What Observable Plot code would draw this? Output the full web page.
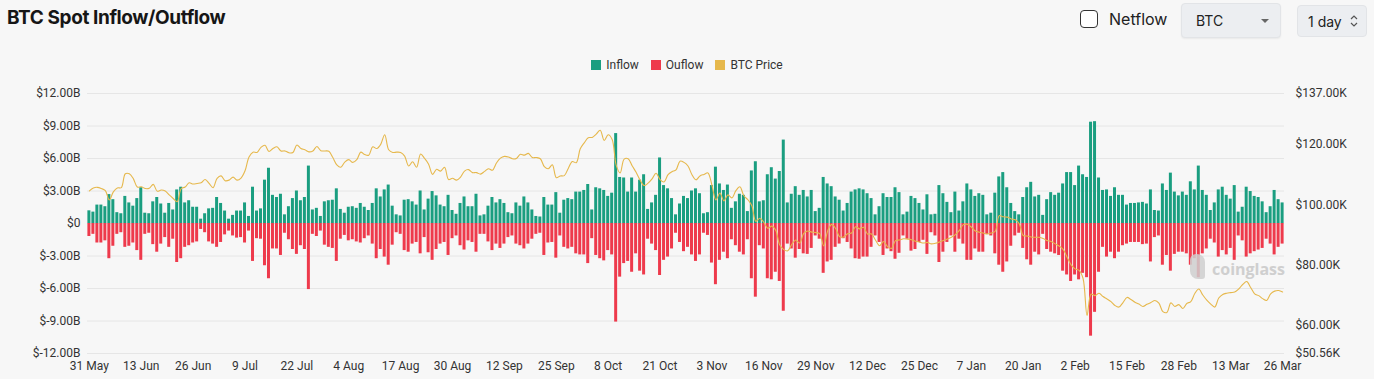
<!DOCTYPE html>
<html><head><meta charset="utf-8">
<script src="https://cdn.jsdelivr.net/npm/d3@7"></script>
<script src="https://cdn.jsdelivr.net/npm/@observablehq/plot@0.6"></script>
<style>
html,body{margin:0;padding:0;}
body{background:#f7f7f7;width:1374px;height:379px;overflow:hidden;position:relative;font-family:Roboto,"Noto Sans",sans-serif;color:#222;}
#title{position:absolute;left:7px;top:6px;font:700 19px Inter,sans-serif;letter-spacing:-0.4px;color:#161616;}
#cb{position:absolute;left:1080px;top:10px;width:16px;height:16px;border:1.6px solid #333;border-radius:4px;background:#fff;}
#netflow{position:absolute;left:1109px;top:9px;font:400 16px Inter,sans-serif;color:#222;}
#sel{position:absolute;left:1181px;top:3px;width:98px;height:33px;background:#eceef1;border:1px solid #e2e4e7;border-radius:4px;box-shadow:0 1px 2px rgba(0,0,0,0.06);}
#sel span{position:absolute;left:14px;top:8px;font:400 14px Inter,sans-serif;color:#222;}
#sel i{position:absolute;left:79px;top:15px;width:0;height:0;border-left:4px solid transparent;border-right:4px solid transparent;border-top:4px solid #666;}
#per{position:absolute;left:1297px;top:5px;width:68px;height:30px;background:#eceef1;border:1px solid #e2e4e7;border-radius:4px;}
#per span{position:absolute;left:10px;top:7px;font:400 14px Inter,sans-serif;color:#222;}
#per svg{position:absolute;left:52px;top:8px;}
#legend{position:absolute;left:0;top:58px;width:1374px;text-align:center;font:400 12px Roboto,sans-serif;color:#333;}
#legend .it{display:inline-flex;align-items:center;margin:0 6px;}
#legend .sw{width:10px;height:10px;margin-right:5px;display:inline-block;}
#chart{position:absolute;left:0;top:80px;}
#wm{position:absolute;left:1212px;top:258px;font:700 16px "Open Sans",sans-serif;color:#c9c9c9;opacity:0.85;}
#wmlogo{position:absolute;left:1190px;top:254px;width:15px;height:25px;background:#cfcfcf;border-radius:6px 8px 3px 8px;opacity:0.85;}
</style></head>
<body>
<div id="title">BTC Spot Inflow/Outflow</div>
<div id="cb"></div>
<div id="netflow">Netflow</div>
<div id="sel"><span>BTC</span><i></i></div>
<div id="per"><span>1 day</span><svg width="8" height="14" viewBox="0 0 8 14"><path d="M1 5 L4 2 L7 5 M1 9 L4 12 L7 9" fill="none" stroke="#555" stroke-width="1.2"/></svg></div>
<div id="legend"></div>
<div id="chart"></div>
<div id="wmlogo"></div>
<div id="wm">coinglass</div>
<script>
// ---- data (values in $B for flows, $K for BTC price), one value per day from 31 May ----
const startDate = "2025-05-31";
const endDate = "2026-03-26";
const inflow = [
1.17,1.05,1.7,1.7,1.55,2.67,2.2,1.0,0.9,2.5,
1.9,1.6,2.3,3.3,0.95,0.9,2.0,2.4,1.8,0.95,
1.85,1.25,3.1,3.35,1.9,2.1,1.5,1.5,0.4,0.9,
1.35,1.4,2.4,1.85,1.15,0.4,0.75,1.15,1.15,1.9,
0.65,3.35,1.15,1.35,4.0,5.1,2.6,2.4,2.7,0.8,
1.55,2.3,3.0,
2.1,2.4,5.3,1.25,1.4,0.65,2.0,2.1,2.15,3.2,
1.3,0.95,1.5,1.55,1.4,1.85,1.5,1.2,1.85,3.2,
2.45,3.1,3.55,1.6,0.8,0.7,2.15,2.2,2.0,1.7,
3.0,1.25,2.25,2.95,2.55,1.7,1.55,2.6,1.2,0.85,
1.85,2.45,1.55,1.55,2.7,0.7,0.8,1.6,2.4,1.9,
2.2,1.85,1.0,0.9,1.9,1.6,2.45,1.9,1.25,0.65,
0.6,2.4,1.7,1.7,2.85,0.95,2.15,2.3,2.2,2.9,
2.9,3.05,3.6,1.25,3.3,3.2,3.05,2.5,2.8,8.3,
4.25,4.2,2.9,4.2,2.9,4.0,4.5,1.3,1.9,2.6,
6.05,3.5,3.2,2.3,0.8,1.8,2.5,2.3,3.0,3.2,
2.75,0.9,1.0,3.5,5.2,3.65,3.05,3.55,1.4,2.0,
2.7,2.6,1.1,4.85,5.7,2.0,2.1,4.5,5.15,4.1,
4.8,7.7,1.9,2.7,3.4,2.6,3.05,2.45,3.05,1.1,
1.4,4.25,3.65,3.4,2.45,2.15,1.15,1.85,2.9,3.1,
3.2,3.1,2.75,2.3,0.8,1.55,2.75,2.4,2.4,3.3,
2.85,0.8,1.05,2.5,2.3,1.85,1.25,2.65,0.8,0.85,
3.5,2.75,1.95,1.0,2.9,1.15,2.0,3.65,3.1,2.5,
2.75,2.6,0.8,0.95,2.8,4.3,4.7,3.3,1.85,1.1,
0.8,2.4,3.3,3.8,2.45,2.6,0.75,2.2,2.85,2.6,
2.8,3.65,4.7,4.7,3.5,5.3,4.5,4.25,9.35,9.4,
4.2,3.05,3.1,2.5,3.3,2.6,2.6,1.7,1.85,1.85,
1.9,
1.95,1.8,3.1,1.2,1.15,3.65,3.05,4.65,2.9,2.55,
2.9,2.6,3.85,3.1,5.3,3.05,2.6,1.2,1.9,3.1,
3.35,2.6,2.25,3.5,1.05,1.5,3.35,2.95,2.5,2.4,
2.0,1.0,1.55,3.05,2.2,1.9
];
const outflow = [
1.2,1.0,1.8,1.8,1.6,3.25,2.1,1.0,0.85,2.2,
2.1,1.8,2.5,3.4,1.0,0.9,1.95,2.65,1.9,1.3,
2.2,1.45,3.6,3.25,2.2,2.05,1.8,1.7,0.55,0.85,
1.7,1.9,2.2,1.75,1.05,0.7,1.15,1.35,1.3,1.8,
0.7,3.5,1.4,1.45,3.9,5.1,2.35,2.35,2.95,0.9,
1.5,2.4,2.85,
2.05,2.4,6.1,1.0,1.2,0.7,2.0,2.2,2.3,3.5,
1.45,1.1,1.6,1.5,1.7,1.8,1.4,1.15,1.9,3.25,
2.4,3.1,3.85,2.0,0.85,1.0,2.5,2.65,1.9,1.75,
2.8,1.3,2.7,3.4,2.4,1.9,1.75,2.95,1.4,1.15,
2.05,2.45,1.6,1.75,2.65,1.0,1.0,1.7,2.5,1.9,
2.3,1.9,1.3,1.15,1.9,2.05,2.35,1.9,1.45,1.0,
0.9,2.95,1.8,1.75,3.2,1.15,2.2,2.35,2.2,2.8,
2.9,2.9,3.7,1.4,2.95,3.25,3.45,2.5,2.9,9.1,
4.95,3.7,3.5,4.5,2.8,4.4,4.75,1.45,1.9,2.5,
4.8,3.4,3.1,2.35,0.9,1.75,2.6,2.2,2.9,3.5,
2.9,0.9,1.1,3.65,5.65,3.4,2.65,3.25,1.5,2.05,
2.65,2.9,1.5,5.1,6.8,2.05,2.35,5.1,5.2,4.5,
5.35,8.1,1.9,2.35,3.2,2.4,2.8,2.85,2.3,1.15,
1.45,4.6,3.55,3.4,2.2,1.9,1.4,1.75,2.35,3.25,
3.3,3.1,3.1,2.2,1.15,1.75,2.95,2.35,2.6,3.3,
2.75,1.15,1.45,2.55,2.4,1.75,1.55,2.85,0.85,1.15,
3.6,2.65,1.75,1.15,2.65,1.45,1.9,3.4,3.4,2.35,
2.65,2.65,1.0,1.15,2.8,3.85,4.5,3.55,2.1,1.15,
0.9,2.3,3.35,3.85,2.65,2.9,1.0,2.4,2.65,2.8,
2.95,4.4,4.75,5.35,4.75,5.2,4.6,5.0,10.4,8.2,
4.5,2.2,3.1,2.65,3.25,2.65,2.05,1.9,1.75,1.75,
1.75,
1.95,1.9,3.55,1.3,1.15,3.85,2.95,4.4,2.85,2.65,
2.65,2.8,3.85,3.25,5.0,2.8,2.35,1.45,1.8,3.1,
2.5,2.9,2.3,3.4,1.15,1.6,3.1,2.8,2.6,2.45,
2.3,1.45,1.9,2.9,2.2,1.9
];
const btcPrice = [
104.6,105.6,105.8,105.4,104.7,101.6,104.3,105.6,105.7,110.3,
110.3,108.7,105.9,106.0,105.4,105.5,106.8,104.5,104.9,104.6,
103.3,102.1,101.0,105.4,105.9,107.3,106.9,107.1,107.3,108.4,
107.1,105.7,108.8,109.6,108.0,108.2,109.2,108.2,108.9,111.3,
115.9,117.5,117.4,119.1,119.8,117.7,118.7,119.3,117.9,117.9,
117.3,117.4,119.9,118.7,118.3,117.6,117.9,119.4,118.0,117.9,
117.8,115.7,113.3,112.5,114.2,115.0,114.1,115.0,117.5,116.7,
116.5,119.3,118.7,120.1,123.3,118.3,117.4,117.5,117.4,116.2,
112.9,114.3,112.5,116.9,115.4,113.5,110.1,111.8,111.2,112.5,
108.4,108.8,108.2,109.2,111.2,111.7,110.7,110.7,110.2,111.1,
112.0,111.5,113.9,115.5,116.1,115.9,115.3,115.4,116.8,116.5,
117.1,115.7,115.7,115.3,112.7,112.0,113.3,109.0,109.6,109.7,
112.1,114.4,114.0,118.6,120.6,122.3,122.4,123.5,124.8,121.4,
123.3,121.7,113.2,110.6,115.2,115.3,113.0,110.8,108.2,106.4,
107.2,108.6,110.5,108.4,107.6,110.0,111.0,111.6,114.5,114.1,
112.9,110.0,108.3,109.6,110.1,110.6,106.5,101.6,103.9,101.3,
103.3,102.3,104.7,106.0,103.0,101.7,99.7,94.5,95.5,94.2,
92.2,92.9,91.5,86.6,85.1,84.7,86.8,88.3,87.3,90.5,
91.3,90.9,90.8,90.4,86.3,91.3,93.5,92.1,89.4,89.3,
90.4,90.6,92.7,92.0,92.5,90.3,90.3,88.2,86.4,87.8,
86.1,85.5,88.1,88.3,88.7,88.6,88.4,87.9,87.6,87.3,
87.5,87.0,87.2,87.6,88.1,88.6,89.2,90.1,91.5,93.4,
93.5,92.6,91.3,90.9,90.6,90.3,90.6,91.2,96.4,96.0,
95.9,95.3,95.0,93.7,89.8,89.6,89.3,89.2,89.2,88.8,
88.1,87.8,87.0,86.3,85.2,82.6,80.0,78.7,78.2,75.5,
63.2,70.3,69.8,70.6,69.5,68.7,67.8,66.5,66.0,67.5,
69.2,68.5,67.6,67.0,66.2,66.9,67.5,68.2,67.3,64.5,
64.2,67.4,66.2,66.8,65.5,67.2,67.8,70.5,72.0,70.0,
68.3,67.0,66.0,69.0,70.2,70.6,70.8,71.0,72.0,73.5,
74.5,72.5,70.4,69.8,68.8,68.2,70.4,71.3,71.5,71.0
];
const flowTicks = [-12,-9,-6,-3,0,3,6,9,12];
const priceTicks = [50.56,60,80,100,120,137];
const xTickLabels = ["31 May","13 Jun","26 Jun","9 Jul","22 Jul","4 Aug","17 Aug","30 Aug","12 Sep","25 Sep","8 Oct","21 Oct","3 Nov","16 Nov","29 Nov","12 Dec","25 Dec","7 Jan","20 Jan","2 Feb","15 Feb","28 Feb","13 Mar","26 Mar"];
const seriesNames = ["Inflow","Ouflow","BTC Price"];
const colors = ["#1a9e80","#ee3a4c","#e6b84c"];

// ---- build ----
const days = d3.utcDay.range(new Date(startDate+"T00:00Z"), d3.utcDay.offset(new Date(endDate+"T00:00Z"),1));
const keyFmt = d3.utcFormat("%Y-%m-%d");
const lblFmt = d3.utcFormat("%-d %b");
const keys = days.map(keyFmt);
const labelByKey = new Map(days.map(d=>[keyFmt(d), lblFmt(d)]));
const tickSet = new Set(xTickLabels);
const xTicks = keys.filter(k => tickSet.has(labelByKey.get(k)));

const pMin = priceTicks[0], pMax = priceTicks[priceTicks.length-1];
const fMin = flowTicks[0], fMax = flowTicks[flowTicks.length-1];
const toFlow = p => fMin + (p - pMin) / (pMax - pMin) * (fMax - fMin);
const toPrice = v => pMin + (v - fMin) / (fMax - fMin) * (pMax - pMin);

const rows = keys.map((k,i)=>({k, inflow: inflow[i], outflow: -outflow[i], price: btcPrice[i]}));

// legend
const lg = document.getElementById("legend");
seriesNames.forEach((n,i)=>{
  const s = document.createElement("span"); s.className="it";
  s.innerHTML = `<span class="sw" style="background:${colors[i]}"></span>${n}`;
  lg.appendChild(s);
});

const chart = Plot.plot({
  width: 1374, height: 299,
  marginTop: 13, marginBottom: 26, marginLeft: 87, marginRight: 90,
  style: {background: "transparent", fontFamily: "Roboto, 'Noto Sans', sans-serif", fontSize: "12px", color: "#333", overflow: "visible"},
  x: {type: "band", domain: keys, paddingInner: 0.25, paddingOuter: 0.1, axis: null, label: null},
  y: {domain: [fMin, fMax], axis: null, label: null},
  marks: [
    Plot.gridY(flowTicks, {stroke: "#e6e6e6", strokeOpacity: 1, strokeWidth: 1}),
    Plot.barY(rows, {x: "k", y1: 0, y2: "inflow", fill: colors[0]}),
    Plot.barY(rows, {x: "k", y1: 0, y2: "outflow", fill: colors[1]}),
    Plot.line(rows, {x: "k", y: d => toFlow(d.price), stroke: colors[2], strokeWidth: 1.1, curve: "catmull-rom"}),
    Plot.axisY(flowTicks, {anchor: "left", label: null, tickSize: 0, tickPadding: 7, tickFormat: v => v === 0 ? "$0" : "$" + v.toFixed(2) + "B"}),
    Plot.axisY(priceTicks.map(toFlow), {anchor: "right", label: null, tickSize: 0, tickPadding: 11, tickFormat: v => "$" + toPrice(v).toFixed(2) + "K"}),
    Plot.axisX(xTicks, {label: null, tickSize: 0, tickPadding: 8, tickFormat: k => labelByKey.get(k)})
  ]
});
document.getElementById("chart").appendChild(chart);
</script>
</body></html>
